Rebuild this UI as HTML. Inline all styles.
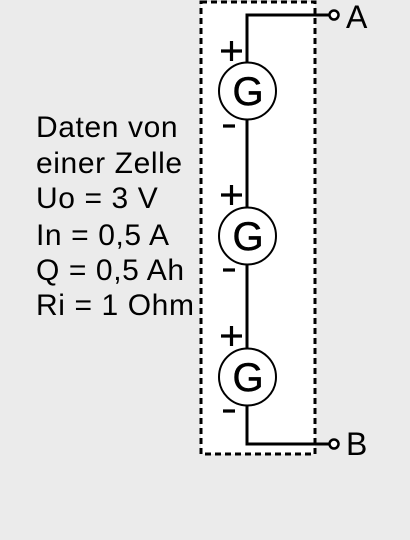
<!DOCTYPE html>
<html><head><meta charset="utf-8"><style>
body{margin:0;background:#ebebeb;}
svg{display:block;font-family:"Liberation Sans",sans-serif;}
</style></head><body>
<svg width="410" height="540" viewBox="0 0 410 540">
<rect x="0" y="0" width="410" height="540" fill="#ebebeb"/>
<rect x="201" y="2" width="114" height="452" fill="#fff" stroke="#000" stroke-width="3" stroke-dasharray="6,4"/>
<polyline points="330,15 247,15 247,444 330,444" fill="none" stroke="#000" stroke-width="3"/>
<g>
<circle cx="247.5" cy="91" r="28.5" fill="#fff" stroke="#000" stroke-width="2"/>
<text x="248" y="105" font-size="40" text-anchor="middle" stroke="#000" stroke-width="0.5">G</text>
<path d="M221 51H242M231.5 41V61M223 126H235" stroke="#000" stroke-width="3.2"/>
</g>
<g>
<circle cx="247.5" cy="236" r="28.5" fill="#fff" stroke="#000" stroke-width="2"/>
<text x="248" y="250" font-size="40" text-anchor="middle" stroke="#000" stroke-width="0.5">G</text>
<path d="M221 195H242M231.5 185V205M223 270H235" stroke="#000" stroke-width="3.2"/>
</g>
<g>
<circle cx="247.5" cy="377" r="28.5" fill="#fff" stroke="#000" stroke-width="2"/>
<text x="248" y="391" font-size="40" text-anchor="middle" stroke="#000" stroke-width="0.5">G</text>
<path d="M221 336H242M231.5 326V346M223 411H235" stroke="#000" stroke-width="3.2"/>
</g>
<circle cx="334" cy="15" r="4.5" fill="#fff" stroke="#000" stroke-width="2.5"/>
<circle cx="334" cy="444" r="4.5" fill="#fff" stroke="#000" stroke-width="2.5"/>
<text x="346" y="28" font-size="32">A</text>
<text x="346" y="455" font-size="32">B</text>
<g font-size="30" letter-spacing="0.6">
<text x="36" y="137">Daten von</text>
<text x="36" y="173">einer Zelle</text>
<text x="36" y="208">Uo = 3 V</text>
<text x="36" y="245">In = 0,5 A</text>
<text x="36" y="280">Q = 0,5 Ah</text>
<text x="36" y="315">Ri = 1 Ohm</text>
</g>
</svg>
</body></html>
